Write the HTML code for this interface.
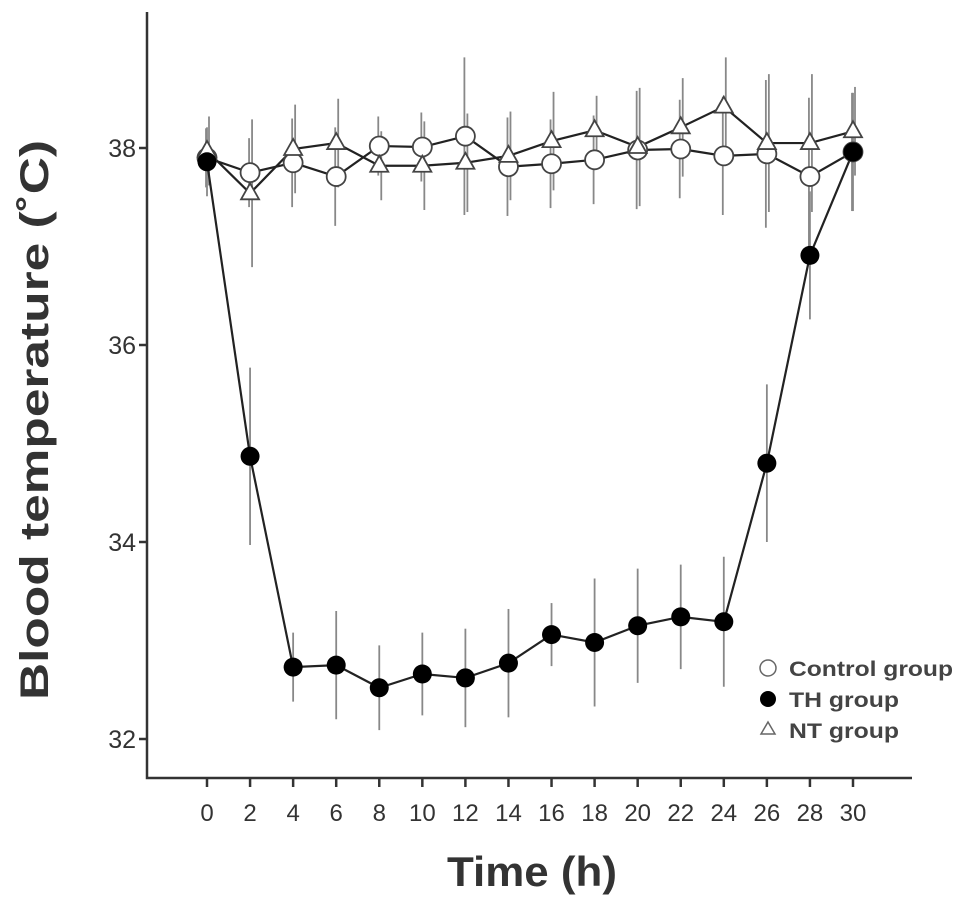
<!DOCTYPE html>
<html><head><meta charset="utf-8"><style>
body{margin:0;background:#fff;}
svg{display:block;font-family:"Liberation Sans",Arial,sans-serif;}
</style></head><body>
<svg id="chart" width="969" height="907" viewBox="0 0 969 907">
<g id="axes"></g><g id="series"></g>
<text transform="translate(48,420) rotate(-90)" text-anchor="middle" font-size="40" font-weight="bold" fill="#333" textLength="560" lengthAdjust="spacingAndGlyphs">Blood temperature (˚C)</text>
<text x="532" y="886" text-anchor="middle" font-size="42" font-weight="bold" fill="#333" textLength="170" lengthAdjust="spacingAndGlyphs">Time (h)</text>
<g font-size="21" font-weight="bold" fill="#444">
<circle cx="768" cy="668" r="8" fill="#fff" stroke="#666" stroke-width="1.5"/>
<text x="789" y="676" textLength="164" lengthAdjust="spacingAndGlyphs">Control group</text>
<circle cx="768" cy="699" r="8" fill="#000"/>
<text x="789" y="707" textLength="110" lengthAdjust="spacingAndGlyphs">TH group</text>
<path d="M768,722 L775,734 L761,734 Z" fill="#fff" stroke="#666" stroke-width="1.5"/>
<text x="789" y="738" textLength="110" lengthAdjust="spacingAndGlyphs">NT group</text>
</g>
</svg>
<script>
const times=[0,2,4,6,8,10,12,14,16,18,20,22,24,26,28,30];
const controlMean=[37.9,37.75,37.85,37.71,38.02,38.01,38.12,37.81,37.84,37.88,37.98,37.99,37.92,37.94,37.71,37.96];
const controlSD=[0.3,0.35,0.45,0.5,0.3,0.35,0.8,0.5,0.45,0.45,0.6,0.5,0.6,0.75,0.8,0.6];
const ntMean=[37.97,37.54,37.99,38.05,37.82,37.82,37.85,37.92,38.07,38.18,38.01,38.21,38.42,38.05,38.05,38.17];
const ntSD=[0.35,0.75,0.45,0.45,0.35,0.45,0.5,0.45,0.5,0.35,0.6,0.5,0.5,0.7,0.7,0.45];
const thMean=[37.86,34.87,32.73,32.75,32.52,32.66,32.62,32.77,33.06,32.98,33.15,33.24,33.19,34.8,36.91,37.96];
const thSD=[0.35,0.9,0.35,0.55,0.43,0.42,0.5,0.55,0.32,0.65,0.58,0.53,0.66,0.8,0.65,0.6];
const yTicks=[32,34,36,38];
const xTicks=[0,2,4,6,8,10,12,14,16,18,20,22,24,26,28,30];

const NS="http://www.w3.org/2000/svg";
const xS=t=>207+t*(853-207)/30;
const yS=v=>148-(v-38)*98.5;
function mk(tag,attrs,parent){const e=document.createElementNS(NS,tag);for(const k in attrs)e.setAttribute(k,attrs[k]);parent.appendChild(e);return e;}
const axes=document.getElementById('axes'), ser=document.getElementById('series');
let e=mk('path',{d:'M147,12 L147,778 L912,778',fill:'none',stroke:'#333','stroke-width':2.5},axes);


yTicks.forEach(v=>{
  let l=mk('line',{x1:139,x2:147,y1:yS(v),y2:yS(v),stroke:'#333','stroke-width':2.5},axes);
  
  
  let t=mk('text',{x:136,y:yS(v)+9,'text-anchor':'end','font-size':25,fill:'#333'},axes);
  t.textContent=v;
  
  
});
xTicks.forEach(v=>{
  let l=mk('line',{x1:xS(v),x2:xS(v),y1:778,y2:787,stroke:'#333','stroke-width':2.5},axes);
  
  
  let t=mk('text',{x:xS(v),y:821,'text-anchor':'middle','font-size':24,fill:'#333'},axes);
  t.textContent=v;
  
  
});
function errs(mean,sd,name,dx){
  mean.forEach((m,i)=>{
    let l=mk('line',{x1:xS(times[i])+dx,x2:xS(times[i])+dx,y1:yS(m+sd[i]),y2:yS(m-sd[i]),stroke:'#888','stroke-width':1.8},ser);
    
    
  });
}
function line(mean,name){
  let p=mk('polyline',{points:mean.map((m,i)=>xS(times[i])+','+yS(m)).join(' '),fill:'none',stroke:'#222','stroke-width':2.2},ser);
  
  
}
errs(ntMean,ntSD,'nt',2);errs(controlMean,controlSD,'control',-1);errs(thMean,thSD,'th',0);
line(ntMean,'nt');line(controlMean,'control');line(thMean,'th');
controlMean.forEach((m,i)=>{
  let c=mk('circle',{cx:xS(times[i]),cy:yS(m),r:9.5,fill:'#fff',stroke:'#444','stroke-width':1.8},ser);
  
  
});
ntMean.forEach((m,i)=>{
  const x=xS(times[i]),y=yS(m);
  let c=mk('path',{d:`M${x},${y-10} L${x+9},${y+6} L${x-9},${y+6} Z`,fill:'#fff',stroke:'#444','stroke-width':1.8},ser);
  
  
});
thMean.forEach((m,i)=>{
  let c=mk('circle',{cx:xS(times[i]),cy:yS(m),r:9.5,fill:'#000'},ser);
  
  
});
</script>
</body></html>
